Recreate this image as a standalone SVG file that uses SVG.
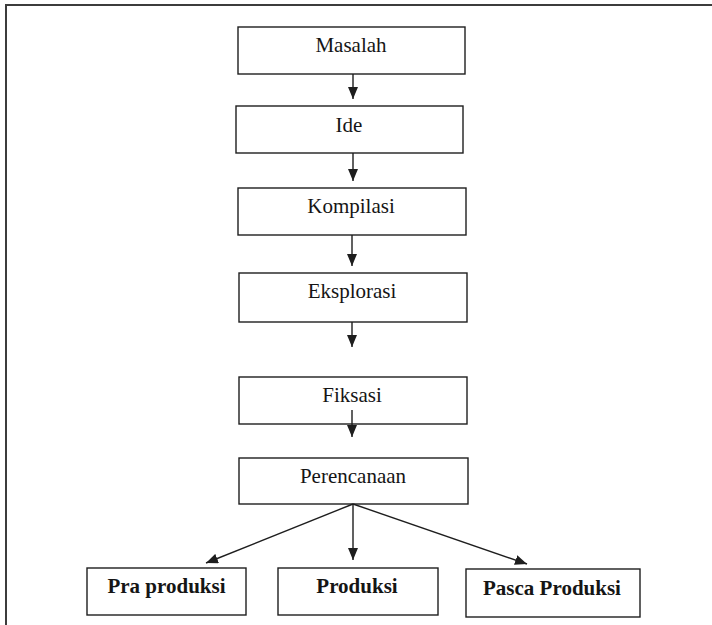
<svg xmlns="http://www.w3.org/2000/svg" width="712" height="625" viewBox="0 0 712 625">
  <style>
    .box { fill: #ffffff; stroke: #1e1e1e; stroke-width: 1.4; }
    .lbl { font-family: 'Liberation Serif', serif; font-size: 21px; font-weight: normal; fill: #151515; text-anchor: middle; }
    .bold { font-weight: bold; }
    .conn { stroke: #1e1e1e; stroke-width: 1.4; fill: none; marker-end: url(#arrow); }
    .frame { stroke: #3c3c3c; stroke-width: 2; fill: none; }
  </style>
  <defs>
    <marker id="arrow" markerUnits="userSpaceOnUse" markerWidth="12" markerHeight="10" refX="12" refY="5" orient="auto">
      <path d="M0,0 L12,5 L0,10 z" fill="#1e1e1e"/>
    </marker>
  </defs>
  <rect width="712" height="625" fill="#ffffff"/>
  <path class="frame" d="M6,625 L6,5 L712,5"/>

  <g id="node-masalah">
    <rect class="box" x="238" y="27" width="227" height="47"/>
    <text class="lbl" x="351" y="52">Masalah</text>
  </g>
  <g id="node-ide">
    <rect class="box" x="236" y="106" width="227" height="47"/>
    <text class="lbl" x="349" y="131.5">Ide</text>
  </g>
  <g id="node-kompilasi">
    <rect class="box" x="238" y="188" width="228" height="47"/>
    <text class="lbl" x="351" y="213">Kompilasi</text>
  </g>
  <g id="node-eksplorasi">
    <rect class="box" x="239" y="273" width="228" height="49"/>
    <text class="lbl" x="352" y="298">Eksplorasi</text>
  </g>
  <g id="node-fiksasi">
    <rect class="box" x="239" y="377" width="228" height="47"/>
    <text class="lbl" x="352" y="402">Fiksasi</text>
  </g>
  <g id="node-perencanaan">
    <rect class="box" x="239" y="458" width="229" height="46"/>
    <text class="lbl" x="353" y="483">Perencanaan</text>
  </g>
  <g id="node-pra-produksi">
    <rect class="box" x="87" y="568" width="159" height="47"/>
    <text class="lbl bold" x="166.5" y="593">Pra produksi</text>
  </g>
  <g id="node-produksi">
    <rect class="box" x="278" y="568" width="160" height="47"/>
    <text class="lbl bold" x="357" y="593">Produksi</text>
  </g>
  <g id="node-pasca-produksi">
    <rect class="box" x="466" y="569" width="174" height="48"/>
    <text class="lbl bold" x="552" y="595">Pasca Produksi</text>
  </g>

  <g id="connectors">
    <line class="conn" x1="353" y1="74" x2="353" y2="99"/>
    <line class="conn" x1="353" y1="153" x2="353" y2="181"/>
    <line class="conn" x1="352" y1="235" x2="352" y2="266"/>
    <line class="conn" x1="352" y1="322" x2="352" y2="347"/>
    <line class="conn" x1="352" y1="410" x2="352" y2="437"/>
    <line class="conn" x1="353" y1="504" x2="206" y2="563"/>
    <line class="conn" x1="353" y1="504" x2="353" y2="560"/>
    <line class="conn" x1="353" y1="504" x2="527" y2="564"/>
  </g>
</svg>
